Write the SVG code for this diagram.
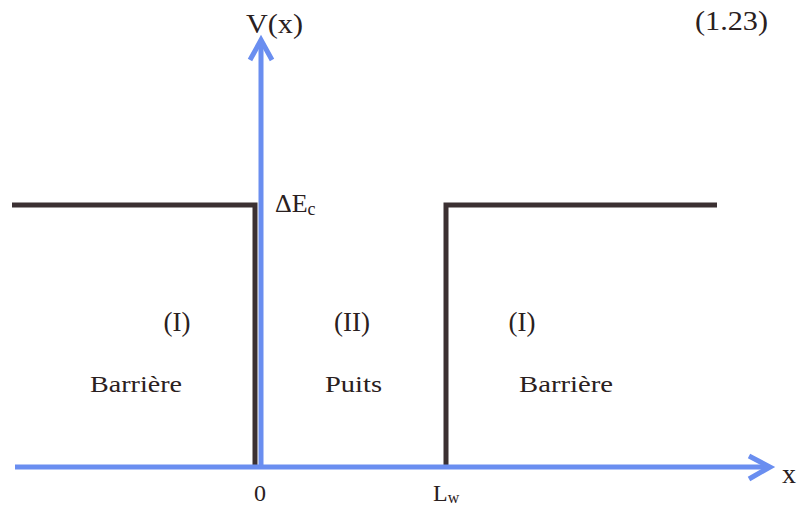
<svg xmlns="http://www.w3.org/2000/svg" width="806" height="508" viewBox="0 0 806 508">
<style>
.t{font-family:"Liberation Serif","Times New Roman",serif;fill:#2a2020}
.ax{stroke:#6a8ef0;stroke-width:5;fill:none}
.pot{stroke:#3b3032;stroke-width:5;fill:none}
</style>
<rect width="806" height="508" fill="#ffffff"/>
<g id="potential">
<polyline class="pot" points="12,205 255,205 255,467"/>
<polyline class="pot" points="446,467 446,205 717,205"/>
</g>
<g id="axes">
<line class="ax" x1="15" y1="467" x2="769" y2="467"/>
<polyline class="ax" points="749,456 770,467 749,479"/>
<line class="ax" x1="261" y1="467" x2="261" y2="41"/>
<polyline class="ax" points="250,60 261,40 272,60"/>
</g>
<g id="labels">
<text class="t" x="246" y="33" font-size="27" textLength="57" lengthAdjust="spacingAndGlyphs">V(x)</text>
<text class="t" x="695" y="30" font-size="27" textLength="73" lengthAdjust="spacingAndGlyphs">(1.23)</text>
<text class="t" x="275" y="212" font-size="26">ΔE<tspan font-size="18" dy="3">c</tspan></text>
<text class="t" x="177" y="331" font-size="27" text-anchor="middle">(I)</text>
<text class="t" x="352" y="331" font-size="27" text-anchor="middle">(II)</text>
<text class="t" x="522" y="331" font-size="27" text-anchor="middle">(I)</text>
<text class="t" x="90" y="392" font-size="24" textLength="92" lengthAdjust="spacingAndGlyphs">Barrière</text>
<text class="t" x="325" y="392" font-size="24" textLength="57" lengthAdjust="spacingAndGlyphs">Puits</text>
<text class="t" x="519" y="392" font-size="24" textLength="94" lengthAdjust="spacingAndGlyphs">Barrière</text>
<text class="t" x="260" y="501" font-size="24" text-anchor="middle">0</text>
<text class="t" x="433" y="501" font-size="24">L<tspan font-size="16" dy="2">w</tspan></text>
<text class="t" x="782" y="483" font-size="28">x</text>
</g>
</svg>
